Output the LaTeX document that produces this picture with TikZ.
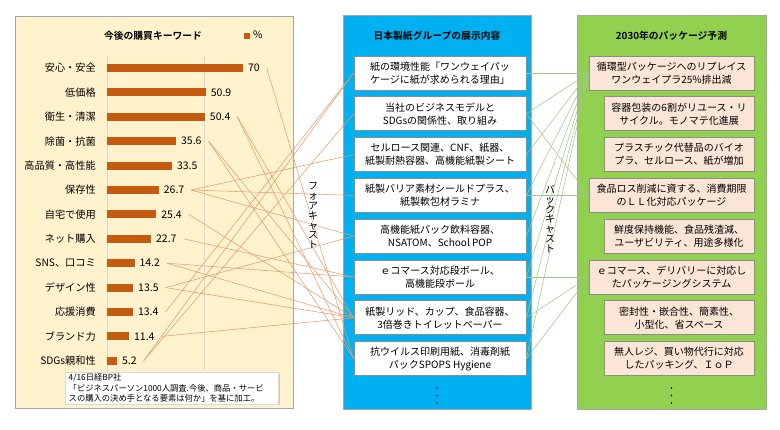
\documentclass[tikz,border=0pt]{standalone}
\usepackage{fontspec}
\setmainfont{Noto Sans CJK JP}[BoldFont={Noto Sans CJK JP Bold}]
\usepackage{tikz}
\usetikzlibrary{shadows}

\definecolor{leftbg}{HTML}{FFF2CC}
\definecolor{midbg}{HTML}{00B0F0}
\definecolor{rightbg}{HTML}{92D050}
\definecolor{planfill}{HTML}{FBE5D6}
\definecolor{panelgray}{HTML}{A6A6A6}
\definecolor{boxgray}{HTML}{8C8C8C}
\definecolor{barcol}{HTML}{C55A11}
\definecolor{foreline}{HTML}{E39D6B}
\definecolor{backline}{HTML}{A3C689}
\definecolor{gridgray}{HTML}{D9D9D9}

\newcommand{\boxfont}{\fontsize{10}{13}\selectfont}
\newcommand{\kwfont}{\fontsize{10.2}{12}\selectfont}
\newcommand{\valfont}{\fontsize{10.5}{12}\selectfont}
\newcommand{\titlefont}{\fontsize{9.8}{12}\selectfont\bfseries}
\newcommand{\notefont}{\fontsize{8.3}{10.5}\selectfont}
\newcommand{\vertfont}{\fontsize{10}{9.8}\selectfont}

\begin{document}
\begin{tikzpicture}[x=1pt,y={(0pt,-1pt)},
  panel/.style={draw=panelgray,line width=1pt},
  showbox/.style={draw=boxgray,fill=white,line width=0.8pt,minimum width=172pt,
    minimum height=34pt,inner sep=0pt,align=center,font=\boxfont},
  planbox/.style={draw=boxgray,fill=planfill,line width=0.8pt,
    minimum height=34pt,inner sep=0pt,align=center,font=\boxfont},
  fore/.style={foreline,line width=0.55pt},
  back/.style={backline,line width=0.55pt}]
\useasboundingbox (0,0) rectangle (780,430);

% three panels
\draw[panel,fill=leftbg] (15,17) rectangle (293,409);
\draw[panel,fill=midbg] (343,16) rectangle (531,410);
\draw[panel,fill=rightbg] (577,16) rectangle (766,410);

\node[font=\titlefont] (lefttitle) at (153,36) {今後の購買キーワード};
\fill[barcol] (244,33) rectangle (250,39);
\node[font=\kwfont,anchor=west,inner sep=0pt] (legend) at (253,35) {\%};
\node[font=\titlefont] (midtitle) at (437,36) {日本製紙グループの展示内容};
\node[font=\titlefont] (righttitle) at (671.5,36) {2030年のパッケージ予測};

% bar chart
\draw[gridgray,line width=0.8pt] (107,56) -- (107,372);
\draw[gridgray,line width=0.8pt] (204,56) -- (204,370);
\foreach \name/\val [count=\i] in {安心・安全/70, 低価格/50.9, 衛生・清潔/50.4,
  除菌・抗菌/35.6, 高品質・高性能/33.5, 保存性/26.7, 自宅で使用/25.4,
  ネット購入/22.7, SNS、口コミ/14.2, デザイン性/13.5, 応援消費/13.4,
  ブランド力/11.4, SDGs親和性/5.2}
{
  \pgfmathsetmacro{\y}{68+24.4*(\i-1)}
  \node[font=\kwfont,anchor=east,inner sep=0pt] (kw\i) at (96,\y) {\name};
  \fill[barcol] (107,\y) ++(0,-4) rectangle ++({1.943*\val},8);
  \node[font=\valfont,anchor=west,inner sep=2pt,outer sep=5pt] (v\i)
    at ({105+1.943*\val},\y) {\val};
}

\node[draw=gridgray,fill=white,drop shadow={opacity=0.35,shadow xshift=1.5pt,shadow yshift=-1.5pt},
  anchor=north west,text width=206pt,inner xsep=3.5pt,inner ysep=1.5pt,
  align=left,font=\notefont] (note) at (65,372)
  {4/16日経BP社\\「ビジネスパーソン1000人調査.今後、商品・サービ\\スの購入の決め手となる要素は何か」を基に加工。};

% exhibits
\foreach \lbl [count=\i] in {
  {紙の環境性能「ワンウェイパッ\\ケージに紙が求められる理由」},
  {当社のビジネスモデルと\\SDGsの関係性、取り組み},
  {セルロース関連、CNF、紙器、\\紙製耐熱容器、高機能紙製シート},
  {紙製バリア素材シールドプラス、\\紙製軟包材ラミナ},
  {高機能紙パック飲料容器、\\NSATOM、School POP},
  {ｅコマース対応段ボール、\\高機能段ボール},
  {紙製リッド、カップ、食品容器、\\3倍巻きトイレットペーパー},
  {抗ウイルス印刷用紙、消毒剤紙\\パックSPOPS Hygiene}}
  \node[showbox] (m\i) at (440,{73+40.8*(\i-1)}) {\lbl};

% forecast 2030
\foreach \cx/\bw/\lbl [count=\i] in {
  671.5/165/{循環型パッケージへのリプレイス\\ワンウェイプラ25\%排出減},
  679/150/{容器包装の6割がリユース・リ\\サイクル。モノマテ化進展},
  679/150/{プラスチック代替品のバイオ\\プラ、セルロース、紙が増加},
  671.5/165/{食品ロス削減に資する、消費期限\\のＬＬ化対応パッケージ},
  679/150/{鮮度保持機能、食品残渣減、\\ユーザビリティ、用途多様化},
  671.5/165/{ｅコマース、デリバリーに対応し\\たパッケージングシステム},
  679/150/{密封性・嵌合性、簡素性、\\小型化、省スペース},
  679/150/{無人レジ、買い物代行に対応\\したパッキング、ＩｏＰ}}
  \node[planbox,minimum width=\bw pt] (p\i) at (\cx,{73+40.8*(\i-1)}) {\lbl};

\foreach \yy in {388,395.5,403} {
  \fill (437,\yy) circle (0.9);
  \fill (671.5,\yy) circle (0.9);
}

% forecasting and backcasting lines
\foreach \a/\b in {1/8, 3/7, 3/8, 4/7, 4/8, 6/3, 6/4, 6/5, 7/7, 8/6, 9/6, 9/7,
  10/5, 10/7, 11/1, 12/7, 13/1, 13/2}
  \draw[fore] (v\a.east) -- (m\b.west);
\foreach \a/\b in {1/1, 2/1, 2/4, 3/1, 4/1, 4/4, 5/1, 6/1, 6/6, 7/1, 7/6, 8/1, 8/6}
  \draw[back] (m\a.east) -- (p\b.west);

\node[font=\vertfont,align=center,inner sep=0pt] (forecast) at (313,216)
  {フ\\ォ\\ア\\キ\\ャ\\ス\\ト};
\node[font=\vertfont,align=center,inner sep=0pt] (backcast) at (550,219)
  {バ\\ッ\\ク\\キ\\ャ\\ス\\ト};
\end{tikzpicture}
\end{document}
